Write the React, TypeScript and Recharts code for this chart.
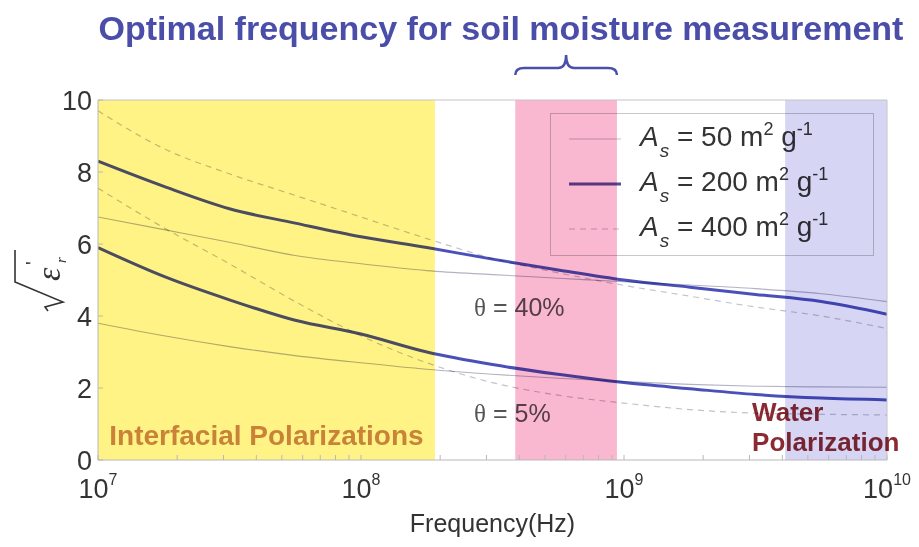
import { Line, LineChart, ReferenceArea, ReferenceDot, XAxis, YAxis } from "recharts";

// frequency grid (Hz), quarter-decade steps
const FREQ_HZ = [1e7, 1.78e7, 3.16e7, 5.62e7, 1e8, 1.78e8, 3.16e8, 5.62e8, 1e9, 1.78e9, 3.16e9, 5.62e9, 1e10];

// sqrt(eps_r') at theta = 40%
const AS50_T40 = [6.75, 6.4, 6.05, 5.68, 5.45, 5.26, 5.15, 5.05, 4.95, 4.86, 4.76, 4.62, 4.4];
const AS200_T40 = [8.3, 7.6, 6.98, 6.58, 6.2, 5.9, 5.58, 5.28, 5.0, 4.8, 4.6, 4.4, 4.05];
const AS400_T40 = [9.7, 8.65, 7.95, 7.35, 6.75, 6.15, 5.6, 5.2, 4.85, 4.55, 4.25, 4.0, 3.65];

// sqrt(eps_r') at theta = 5%
const AS50_T5 = [3.8, 3.45, 3.15, 2.9, 2.7, 2.52, 2.38, 2.27, 2.18, 2.1, 2.05, 2.03, 2.02];
const AS200_T5 = [5.9, 5.1, 4.45, 3.88, 3.5, 3.0, 2.65, 2.38, 2.15, 1.98, 1.82, 1.72, 1.67];
const AS400_T5 = [7.55, 6.45, 5.45, 4.4, 3.45, 2.7, 2.15, 1.8, 1.58, 1.4, 1.3, 1.27, 1.25];

const X_DECADES = [1e7, 1e8, 1e9, 1e10];
const Y_TICKS = [0, 2, 4, 6, 8, 10];

// polarization regimes / measurement window
const INTERFACIAL_BAND = [1e7, 1.91e8];
const OPTIMAL_BAND = [3.86e8, 9.4e8];
const WATER_BAND = [4.1e9, 1e10];

const SURFACE_AREAS = [50, 200, 400];

const SERIES = [
  { key: "as50_t40", values: AS50_T40, area: 50 },
  { key: "as200_t40", values: AS200_T40, area: 200 },
  { key: "as400_t40", values: AS400_T40, area: 400 },
  { key: "as50_t5", values: AS50_T5, area: 50 },
  { key: "as200_t5", values: AS200_T5, area: 200 },
  { key: "as400_t5", values: AS400_T5, area: 400 },
];

const LINE_STYLE: Record<number, { stroke: string; width: number; dash?: string }> = {
  50: { stroke: "#b2b2c6", width: 1.1 },
  200: { stroke: "#4b50b8", width: 3 },
  400: { stroke: "#c2c2cc", width: 1.2, dash: "6 5" },
};

const LEGEND_STYLE: Record<number, { stroke: string; width: number; dash?: string }> = {
  50: { stroke: "#c4c4cc", width: 1.2 },
  200: { stroke: "#5a4a9a", width: 3 },
  400: { stroke: "#c4c4cc", width: 1.2, dash: "6 5" },
};

const X_TICKS = X_DECADES.flatMap((d, i) =>
  i === X_DECADES.length - 1 ? [d] : [1, 2, 3, 4, 5, 6, 7, 8, 9].map((m) => m * d)
);

const rows = FREQ_HZ.map((f, i) => {
  const row: Record<string, number> = { f };
  SERIES.forEach((s) => (row[s.key] = s.values[i]));
  return row;
});

const SANS = "'Liberation Sans', Arial, sans-serif";
const SERIF = "'Liberation Serif', 'Times New Roman', serif";

const FreqTick = (props: any) => {
  const { x, y, payload } = props;
  const exp = Math.round(Math.log10(payload.value));
  if (Math.abs(10 ** exp - payload.value) / payload.value > 1e-6) return <g />;
  return (
    <text x={x} y={y} textAnchor="middle" fill="#333" fontSize={27} fontFamily={SANS}>
      <tspan>10</tspan>
      <tspan dy={-13} fontSize={16}>
        {exp}
      </tspan>
    </text>
  );
};

// rotated sqrt(eps_r') symbol
const YLabel = (props: any) => {
  const { viewBox } = props;
  const cx = viewBox.x + 22;
  const cy = viewBox.y + viewBox.height / 2 - 2;
  return (
    <g transform={`translate(${cx},${cy}) rotate(-90)`} fill="#333" stroke="none">
      <path
        d="M -33 -12 L -29 -15 L -24 3 L -4 -45 L 28 -45"
        fill="none"
        stroke="#333"
        strokeWidth={1.6}
      />
      <text x={-3} y={0} fontSize={34} fontStyle="italic" fontFamily={SERIF}>
        ε
      </text>
      <text x={13} y={-20} fontSize={20} fontFamily={SANS}>
        '
      </text>
      <text x={15} y={6} fontSize={15} fontStyle="italic" fontFamily={SERIF}>
        r
      </text>
    </g>
  );
};

const ThetaLabel = (text: string) => (props: any) => {
  const { viewBox } = props;
  const x = viewBox.x + viewBox.width / 2;
  const y = viewBox.y + viewBox.height / 2;
  return (
    <text x={x} y={y + 9} fill="#555" fontSize={25} fontFamily={SANS} className="blend">
      <tspan fontFamily={SERIF}>θ</tspan>
      <tspan> = {text}</tspan>
    </text>
  );
};

const WaterLabel = (props: any) => {
  const { viewBox } = props;
  const x = viewBox.x + viewBox.width / 2;
  const y = viewBox.y + viewBox.height / 2;
  return (
    <text x={x} y={y} fill="#8c2a33" fontSize={26} fontWeight="bold" fontFamily={SANS} className="blend">
      <tspan x={x}>Water</tspan>
      <tspan x={x} dy={30}>
        Polarization
      </tspan>
    </text>
  );
};

const InterfacialLabel = (props: any) => {
  const { viewBox } = props;
  return (
    <text
      x={viewBox.x + viewBox.width / 2}
      y={viewBox.y + viewBox.height - 15}
      textAnchor="middle"
      fill="#c88a6c"
      fontSize={28}
      fontWeight="bold"
      fontFamily={SANS}
      className="blend"
    >
      Interfacial Polarizations
    </text>
  );
};

// curly brace over the optimal measurement window
const Brace = (props: any) => {
  const { viewBox } = props;
  const x0 = viewBox.x;
  const x1 = viewBox.x + viewBox.width;
  const cx = (x0 + x1) / 2;
  const y0 = viewBox.y - 32;
  return (
    <path
      d={`M ${x0} ${y0 + 7} Q ${x0} ${y0} ${x0 + 9} ${y0} L ${cx - 8} ${y0} Q ${cx} ${y0} ${cx} ${y0 - 13} Q ${cx} ${y0} ${cx + 8} ${y0} L ${x1 - 9} ${y0} Q ${x1} ${y0} ${x1} ${y0 + 7}`}
      fill="none"
      stroke="#4a4fa8"
      strokeWidth={2.5}
    />
  );
};

const LegendBox = () => (
  <div
    style={{
      position: "absolute",
      left: 550,
      top: 113,
      width: 322,
      height: 141,
      border: "1px solid #c8c8c8",
      mixBlendMode: "multiply",
      fontFamily: SANS,
      color: "#333",
      fontSize: 28,
    }}
  >
    {SURFACE_AREAS.map((a, i) => {
      const st = LEGEND_STYLE[a];
      return (
        <div key={a} style={{ position: "absolute", left: 0, top: 3 + i * 45, height: 45, width: 322 }}>
          <svg width={72} height={45} style={{ position: "absolute", left: 0, top: 0 }}>
            <line x1={18} x2={70} y1={22} y2={22} stroke={st.stroke} strokeWidth={st.width} strokeDasharray={st.dash} />
          </svg>
          <div style={{ position: "absolute", left: 89, top: 5, whiteSpace: "nowrap", lineHeight: "29px" }}>
            <span style={{ fontStyle: "italic" }}>A</span>
            <span style={{ fontStyle: "italic", fontSize: 19, position: "relative", top: 11, marginLeft: 1 }}>s</span>
            <span> = {a} m</span>
            <span style={{ fontSize: 18, position: "relative", top: -11 }}>2</span>
            <span> g</span>
            <span style={{ fontSize: 18, position: "relative", top: -11 }}>-1</span>
          </div>
        </div>
      );
    })}
  </div>
);

export default function App() {
  return (
    <div style={{ position: "relative", width: 919, height: 547, background: "#fff", fontFamily: SANS }}>
      <style>{`body{margin:0} .recharts-reference-area-rect, .recharts-line-curve, .blend { mix-blend-mode: multiply; }`}</style>
      <div
        style={{
          position: "absolute",
          left: 501,
          top: 8,
          transform: "translateX(-50%)",
          whiteSpace: "nowrap",
          color: "#4a4ea8",
          fontSize: 34,
          fontWeight: "bold",
          lineHeight: "40px",
        }}
      >
        Optimal frequency for soil moisture measurement
      </div>
      <LineChart width={919} height={547} data={rows} margin={{ top: 99, right: 31, bottom: 7, left: 38 }}>
        <XAxis
          dataKey="f"
          type="number"
          scale="log"
          domain={[1e7, 1e10]}
          ticks={X_TICKS}
          interval={0}
          allowDataOverflow
          height={80}
          tick={<FreqTick />}
          tickSize={-5}
          tickMargin={43}
          stroke="#b8b8b8"
          label={{
            value: "Frequency(Hz)",
            position: "insideBottom",
            offset: 8,
            fill: "#333",
            fontSize: 25,
            fontFamily: SANS,
          }}
        />
        <XAxis
          xAxisId="top"
          orientation="top"
          type="number"
          scale="log"
          domain={[1e7, 1e10]}
          ticks={X_TICKS}
          interval={0}
          allowDataOverflow
          height={1}
          tick={false}
          tickSize={-5}
          stroke="#c4c4c4"
        />
        <YAxis
          type="number"
          domain={[0, 10]}
          ticks={Y_TICKS}
          interval={0}
          width={60}
          tickSize={-5}
          tickMargin={11}
          stroke="#b8b8b8"
          tick={{ fill: "#333", fontSize: 27, fontFamily: SANS }}
          label={{ content: <YLabel /> }}
        />
        <YAxis
          yAxisId="right"
          orientation="right"
          type="number"
          domain={[0, 10]}
          ticks={Y_TICKS}
          width={1}
          tick={false}
          tickSize={-5}
          stroke="#c4c4c4"
        />
        <ReferenceArea
          x1={INTERFACIAL_BAND[0]}
          x2={INTERFACIAL_BAND[1]}
          y1={0}
          y2={10}
          fill="#fff385"
          fillOpacity={1}
          stroke="none"
          label={{ content: <InterfacialLabel /> }}
        />
        <ReferenceArea
          x1={OPTIMAL_BAND[0]}
          x2={OPTIMAL_BAND[1]}
          y1={0}
          y2={10}
          fill="#f9b7d0"
          fillOpacity={1}
          stroke="none"
          label={{ content: <Brace /> }}
        />
        <ReferenceArea
          x1={WATER_BAND[0]}
          x2={WATER_BAND[1]}
          y1={0}
          y2={10}
          fill="#d6d6f4"
          fillOpacity={1}
          stroke="none"
        />
        {SERIES.map((s) => {
          const st = LINE_STYLE[s.area];
          return (
            <Line
              key={s.key}
              type="monotone"
              dataKey={s.key}
              stroke={st.stroke}
              strokeWidth={st.width}
              strokeDasharray={st.dash}
              dot={false}
              activeDot={false}
              isAnimationActive={false}
            />
          );
        })}
        <ReferenceDot x={2.69e8} y={4.25} r={0} fill="none" stroke="none" label={{ content: ThetaLabel("40%") }} />
        <ReferenceDot x={2.69e8} y={1.3} r={0} fill="none" stroke="none" label={{ content: ThetaLabel("5%") }} />
        <ReferenceDot x={3.07e9} y={1.08} r={0} fill="none" stroke="none" label={{ content: <WaterLabel /> }} />
      </LineChart>
      <LegendBox />
    </div>
  );
}
